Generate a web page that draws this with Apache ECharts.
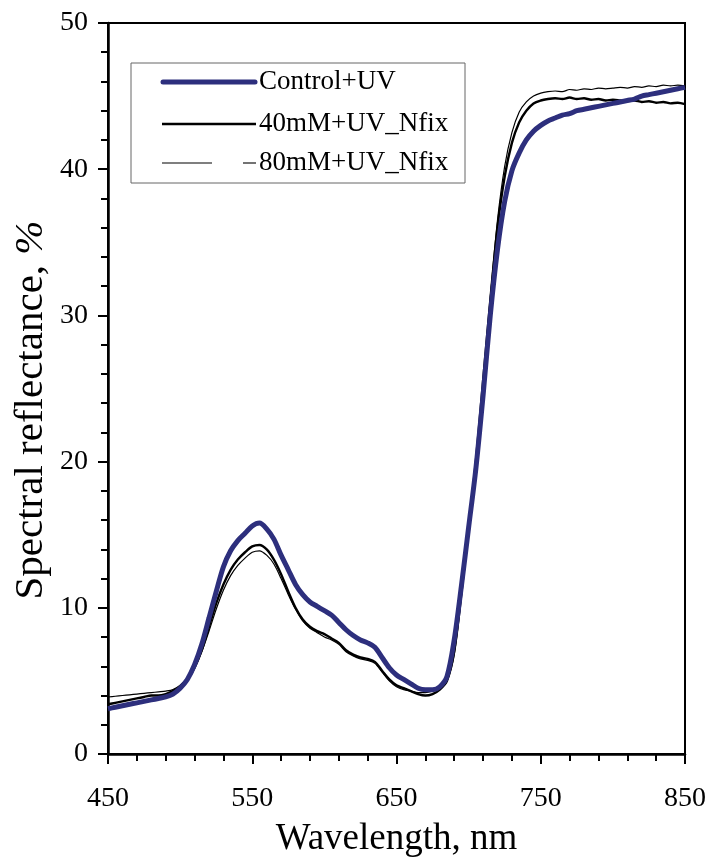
<!DOCTYPE html>
<html>
<head>
<meta charset="utf-8">
<script src="https://cdn.jsdelivr.net/npm/echarts@6/dist/echarts.min.js"></script>
<style>html,body{margin:0;padding:0;background:#fff;}#c{width:709px;height:863px;}</style>
</head>
<body>
<div id="c"></div>
<script>
var wavelengths = [450,455,460,465,470,475,480,485,490,495,500,505,510,515,520,525,530,535,540,545,550,555,560,565,570,575,580,585,590,595,600,605,610,615,620,625,630,635,640,645,650,655,660,665,670,675,680,685,690,695,700,705,710,715,720,725,730,735,740,745,750,755,760,765,770,775,780,785,790,795,800,805,810,815,820,825,830,835,840,845,850];
var controlUV = [3.1,3.2,3.3,3.4,3.5,3.6,3.7,3.8,3.9,4.1,4.5,5.1,6.1,7.5,9.3,11.1,12.8,13.9,14.6,15.1,15.6,15.8,15.4,14.7,13.6,12.6,11.6,10.9,10.4,10.1,9.8,9.5,9.0,8.5,8.1,7.8,7.6,7.3,6.6,5.9,5.4,5.1,4.8,4.5,4.4,4.4,4.6,5.3,7.8,11.5,15.5,19.5,24.5,30.0,34.5,37.8,39.9,41.1,42.0,42.6,43.0,43.3,43.5,43.7,43.8,44.0,44.1,44.2,44.3,44.4,44.5,44.6,44.7,44.8,45.0,45.1,45.2,45.3,45.4,45.5,45.6];
var uv40mM = [3.4,3.5,3.6,3.7,3.8,3.9,4.0,4.0,4.1,4.3,4.6,5.1,5.9,7.1,8.7,10.3,11.6,12.6,13.3,13.8,14.2,14.3,14.0,13.3,12.3,11.1,10.0,9.2,8.7,8.4,8.2,7.9,7.6,7.1,6.8,6.6,6.5,6.3,5.7,5.1,4.7,4.5,4.3,4.1,4.0,4.1,4.4,5.0,7.0,11.0,15.5,20.0,25.5,31.0,36.0,39.5,41.8,43.2,44.0,44.5,44.7,44.8,44.85,44.8,44.9,44.8,44.85,44.75,44.8,44.7,44.75,44.7,44.65,44.7,44.6,44.65,44.55,44.6,44.5,44.55,44.45];
var uv80mM = [3.9,3.95,4.0,4.05,4.1,4.15,4.2,4.25,4.3,4.4,4.7,5.2,5.9,7.0,8.4,9.9,11.2,12.2,12.9,13.4,13.8,13.9,13.6,13.0,12.0,10.9,9.9,9.1,8.6,8.3,8.0,7.8,7.5,7.0,6.7,6.5,6.4,6.2,5.6,5.0,4.6,4.4,4.3,4.2,4.2,4.3,4.5,5.0,6.8,10.8,15.2,19.8,25.5,31.2,36.5,40.2,42.5,43.9,44.6,45.0,45.2,45.3,45.35,45.3,45.45,45.4,45.5,45.45,45.55,45.5,45.55,45.6,45.55,45.65,45.6,45.7,45.65,45.75,45.7,45.75,45.7];
var seriesNames = ['Control+UV','40mM+UV_Nfix','80mM+UV_Nfix'];
var xTitle = 'Wavelength, nm';
var yTitleMain = 'Spectral reflectance, ';
var yTitleUnit = '%';

function pairs(ys){ return wavelengths.map(function(x,i){ return [x, ys[i]]; }); }
var FONT = 'Liberation Serif';
var NAVY = '#2d2f7d';
var legendRows = [82, 124, 163];

var legendGraphics = [
  { type: 'rect', shape: { x: 131, y: 63, width: 334, height: 120 }, style: { fill: '#fff', stroke: '#666', lineWidth: 1 }, z: 10 },
  { type: 'line', shape: { x1: 163, y1: legendRows[0], x2: 255, y2: legendRows[0] }, style: { stroke: NAVY, lineWidth: 5, lineCap: 'round' }, z: 11 },
  { type: 'line', shape: { x1: 162, y1: legendRows[1], x2: 256, y2: legendRows[1] }, style: { stroke: '#000', lineWidth: 2.4 }, z: 11 },
  { type: 'line', shape: { x1: 162, y1: legendRows[2], x2: 212, y2: legendRows[2] }, style: { stroke: '#000', lineWidth: 1.1 }, z: 11 },
  { type: 'line', shape: { x1: 243, y1: legendRows[2], x2: 256, y2: legendRows[2] }, style: { stroke: '#000', lineWidth: 1.1 }, z: 11 }
];
seriesNames.forEach(function(n, i){
  legendGraphics.push({ type: 'text', x: 259, y: legendRows[i], z: 11,
    style: { text: n, font: '27px "Liberation Serif"', fill: '#000', textAlign: 'left', textVerticalAlign: 'middle' } });
});
legendGraphics.push({ type: 'text', x: 31, y: 410, rotation: Math.PI / 2,
  style: { text: '{a|' + yTitleMain + '}{b|' + yTitleUnit + '}', textAlign: 'center', textVerticalAlign: 'middle',
    rich: { a: { fontFamily: FONT, fontSize: 41, fill: '#000', color: '#000' },
            b: { fontFamily: FONT, fontSize: 41, fontStyle: 'italic', fill: '#000', color: '#000' } } } });

var chart = echarts.init(document.getElementById('c'));
chart.setOption({
  animation: false,
  backgroundColor: '#fff',
  grid: { left: 108, right: 24, top: 23, bottom: 108, show: true, borderColor: '#000', borderWidth: 2, backgroundColor: 'transparent' },
  xAxis: {
    type: 'value', min: 450, max: 850, interval: 100,
    name: xTitle, nameLocation: 'middle', nameGap: 67,
    nameTextStyle: { fontFamily: FONT, fontSize: 37, color: '#000' },
    axisLine: { lineStyle: { color: '#000', width: 2.5 } },
    axisTick: { inside: false, length: 10, lineStyle: { color: '#000', width: 2 } },
    minorTick: { show: true, splitNumber: 5, length: 7, lineStyle: { color: '#000', width: 2 } },
    splitLine: { show: false },
    axisLabel: { fontFamily: FONT, fontSize: 28, color: '#000', margin: 31 }
  },
  yAxis: {
    type: 'value', min: 0, max: 50, interval: 10,
    axisLine: { onZero: false, lineStyle: { color: '#000', width: 2.5 } },
    axisTick: { inside: false, length: 10, lineStyle: { color: '#000', width: 2 } },
    minorTick: { show: true, splitNumber: 5, length: 7, lineStyle: { color: '#000', width: 2 } },
    splitLine: { show: false },
    axisLabel: { fontFamily: FONT, fontSize: 28, color: '#000', margin: 20 }
  },
  graphic: legendGraphics,
  series: [
    { name: seriesNames[1], type: 'line', data: pairs(uv40mM), showSymbol: false, symbol: 'none', smooth: 0.3,
      lineStyle: { color: '#000', width: 2.4 }, itemStyle: { color: '#000' }, z: 3 },
    { name: seriesNames[2], type: 'line', data: pairs(uv80mM), showSymbol: false, symbol: 'none', smooth: 0.3,
      lineStyle: { color: '#000', width: 1.2 }, itemStyle: { color: '#000' }, z: 3 },
    { name: seriesNames[0], type: 'line', data: pairs(controlUV), showSymbol: false, symbol: 'none', smooth: 0.3,
      lineStyle: { color: NAVY, width: 5 }, itemStyle: { color: NAVY }, z: 4 }
  ]
});
</script>
</body>
</html>
